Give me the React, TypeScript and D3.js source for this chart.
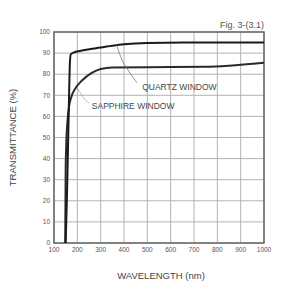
import * as d3 from "d3";

const xTicks = [100, 200, 300, 400, 500, 600, 700, 800, 900, 1000];
const yTicks = [0, 10, 20, 30, 40, 50, 60, 70, 80, 90, 100];

const quartzWavelength = [150, 155, 160, 165, 168, 172, 190, 220, 280, 350, 400, 500, 700, 1000];
const quartzTransmittance = [0, 20, 45, 72, 85, 89.5, 90.5, 91.2, 92.3, 93.5, 94.2, 94.8, 95, 95];

const sapphireWavelength = [148, 150, 152, 158, 165, 175, 190, 220, 260, 300, 350, 500, 750, 850, 1000];
const sapphireTransmittance = [0, 35, 45, 58, 65, 69.5, 73, 77, 80.5, 82.5, 83.2, 83.3, 83.5, 84, 85.4];

// leader lines + label anchors, in data units
const quartzLeader: [number, number][] = [[368, 94], [395, 86], [455, 76]];
const quartzLabelAt: [number, number] = [478, 72.5];
const sapphireLeader: [number, number][] = [[200, 73.5], [225, 69], [252, 66]];
const sapphireLabelAt: [number, number] = [262, 63.5];

const width = 295;
const height = 297;
const margin = { top: 32, right: 31, bottom: 54, left: 54 };

export default function App() {
  const innerW = width - margin.left - margin.right;
  const innerH = height - margin.top - margin.bottom;

  const x = d3.scaleLinear().domain([100, 1000]).range([margin.left, margin.left + innerW]);
  const y = d3.scaleLinear().domain([0, 100]).range([margin.top + innerH, margin.top]);

  const line = d3
    .line<[number, number]>()
    .x((d) => x(d[0]))
    .y((d) => y(d[1]))
    .curve(d3.curveMonotoneX);

  const leader = d3
    .line<[number, number]>()
    .x((d) => x(d[0]))
    .y((d) => y(d[1]))
    .curve(d3.curveCatmullRom);

  const quartz = quartzWavelength.map((w, i) => [w, quartzTransmittance[i]] as [number, number]);
  const sapphire = sapphireWavelength.map((w, i) => [w, sapphireTransmittance[i]] as [number, number]);

  const font = "'Liberation Sans', Arial, sans-serif";

  return (
    <svg
      width={width}
      height={height}
      style={{ position: "absolute", left: 0, top: 0, background: "#fff" }}
      fontFamily={font}
    >
      {/* grid */}
      {xTicks.map((t) => (
        <line key={"gx" + t} x1={x(t)} x2={x(t)} y1={y(0)} y2={y(100)} stroke="#aaa" strokeWidth={0.9} />
      ))}
      {yTicks.map((t) => (
        <line key={"gy" + t} x1={x(100)} x2={x(1000)} y1={y(t)} y2={y(t)} stroke="#aaa" strokeWidth={0.9} />
      ))}

      {/* frame */}
      <rect
        x={x(100)}
        y={y(100)}
        width={x(1000) - x(100)}
        height={y(0) - y(100)}
        fill="none"
        stroke="#666"
        strokeWidth={1.5}
      />

      {/* tick labels */}
      {yTicks.map((t) => (
        <text key={"ly" + t} x={x(100) - 4} y={y(t)} dy="0.35em" textAnchor="end" fontSize={6.5} fill="#555">
          {t}
        </text>
      ))}
      {xTicks.map((t) => (
        <text key={"lx" + t} x={x(t)} y={y(0) + 9} textAnchor="middle" fontSize={6.5} fill="#555">
          {t}
        </text>
      ))}

      {/* curves */}
      <path d={line(sapphire) ?? ""} fill="none" stroke="#2a2a2a" strokeWidth={2} />
      <path d={line(quartz) ?? ""} fill="none" stroke="#1a1a1a" strokeWidth={2} />

      {/* annotations */}
      <path d={leader(quartzLeader) ?? ""} fill="none" stroke="#777" strokeWidth={0.8} />
      <text x={x(quartzLabelAt[0])} y={y(quartzLabelAt[1])} fontSize={8.5} fill="#444">
        QUARTZ WINDOW
      </text>
      <path d={leader(sapphireLeader) ?? ""} fill="none" stroke="#777" strokeWidth={0.8} strokeDasharray="1.5,1" />
      <text x={x(sapphireLabelAt[0])} y={y(sapphireLabelAt[1])} fontSize={8.5} fill="#444">
        SAPPHIRE WINDOW
      </text>

      {/* titles */}
      <text x={x(1000)} y={margin.top - 4} textAnchor="end" fontSize={9} fill="#555">
        Fig. 3-(3.1)
      </text>
      <text
        transform={`translate(13, ${margin.top + innerH / 2}) rotate(-90)`}
        textAnchor="middle"
        dy="0.35em"
        fontSize={9.5}
        fill="#444"
      >
        TRANSMITTANCE (%)
      </text>
      <text x={margin.left + innerW / 2 + 2} y={279} textAnchor="middle" fontSize={9.5} fill="#444">
        WAVELENGTH (nm)
      </text>
    </svg>
  );
}
